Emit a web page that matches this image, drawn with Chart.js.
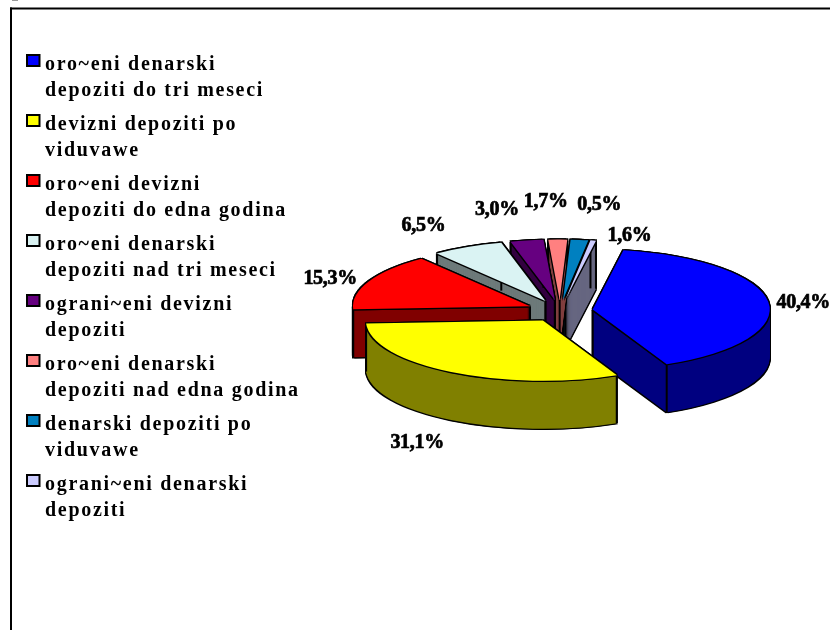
<!DOCTYPE html>
<html><head><meta charset="utf-8">
<style>html,body{margin:0;padding:0;background:#fff}#w{width:830px;height:630px;position:relative}</style>
<script src="https://cdn.jsdelivr.net/npm/chart.js@4/dist/chart.umd.js"></script>
</head><body><div id="w"><canvas id="c" width="830" height="630"></canvas></div>
<script>
const categories = [
  ["oro~eni denarski","depoziti do tri meseci"],
  ["devizni depoziti po","viduvawe"],
  ["oro~eni devizni","depoziti do edna godina"],
  ["oro~eni denarski","depoziti nad tri meseci"],
  ["ograni~eni devizni","depoziti"],
  ["oro~eni denarski","depoziti nad edna godina"],
  ["denarski depoziti po","viduvawe"],
  ["ograni~eni denarski","depoziti"]
];
const shares = [40.4,31.1,15.3,6.5,3.0,1.7,1.6,0.5];
const topColors = ["#0000ff","#ffff00","#ff0000","#daf3f3","#660080","#ff8080","#0080c0","#ccccff"];
const wallColors = ["#000080","#808000","#800000","#6d7a7a","#330040","#804040","#004060","#666680"];
const paintGroups = [[6,7,5,4,3],[2],[0],[1]];
const labelNudge = [[35,2],[-34,72],[-39,-1],[-44,-20],[-30,-30],[-12,-37],[50,-3],[6,-35]];
const SQUASH=0.34, DEPTH=48, CX=560, CY=311, EXPLODE=33, RIM=177;
const LEGEND_TRACKING='1.7px';

function paint(arc,ctx,color,dx,dy){
  const saved=arc.options;
  const mid=(arc.startAngle+arc.endAngle)/2;
  arc.options=Object.assign({},saved,{backgroundColor:color,borderWidth:0,borderColor:color});
  ctx.setTransform(1,0,0,SQUASH,
    CX+EXPLODE*Math.cos(mid)+dx-arc.x,
    CY+SQUASH*EXPLODE*Math.sin(mid)+dy-arc.y*SQUASH);
  arc.draw(ctx);
  arc.options=saved;
}
function rimPoint(arc,a){
  const mid=(arc.startAngle+arc.endAngle)/2;
  return [CX+EXPLODE*Math.cos(mid)+RIM*Math.cos(a), CY+SQUASH*(EXPLODE*Math.sin(mid)+RIM*Math.sin(a))];
}
const pie3d={
  id:'pie3d',
  beforeLayout(chart){ chart.ctx.letterSpacing=LEGEND_TRACKING; },
  beforeDraw(chart){
    const ctx=chart.ctx;
    ctx.save();ctx.fillStyle='#000';
    ctx.fillRect(10,7.5,820,2);ctx.fillRect(10,7.5,2,622.5);
    ctx.fillStyle='#999';ctx.fillRect(12,0,6,1);
    ctx.restore();
    ctx.letterSpacing=LEGEND_TRACKING;
  },
  beforeDatasetsDraw(chart){
    const ctx=chart.ctx, arcs=chart.getDatasetMeta(0).data, o=1.1;
    ctx.save();
    paintGroups.forEach(group=>{
      group.forEach(i=>{
        const arc=arcs[i];
        for(let d=DEPTH;d>=0;d-=1){
          paint(arc,ctx,'#000',-o,d-o);paint(arc,ctx,'#000',o,d-o);
          paint(arc,ctx,'#000',-o,d+o);paint(arc,ctx,'#000',o,d+o);
        }
        for(let d=DEPTH;d>=0;d-=1) paint(arc,ctx,wallColors[i],0,d);
        ctx.setTransform(1,0,0,1,0,0);
        const mid=(arc.startAngle+arc.endAngle)/2;
        const tip=[CX+EXPLODE*Math.cos(mid),CY+SQUASH*EXPLODE*Math.sin(mid)];
        [tip,rimPoint(arc,arc.startAngle),rimPoint(arc,arc.endAngle)].forEach(p=>{
          ctx.strokeStyle='#000';ctx.lineWidth=2;ctx.beginPath();ctx.moveTo(p[0],p[1]);ctx.lineTo(p[0],p[1]+DEPTH);ctx.stroke();
        });
      });
      group.forEach(i=>{
        const arc=arcs[i];
        paint(arc,ctx,'#000',-o,-o);paint(arc,ctx,'#000',o,-o);
        paint(arc,ctx,'#000',-o,o);paint(arc,ctx,'#000',o,o);
        paint(arc,ctx,topColors[i],0,0);
      });
    });
    ctx.restore();
    ctx.save();
    ctx.setTransform(1,0,0,1,0,0);
    ctx.letterSpacing='-0.3px';
    ctx.font='bold 20px "Liberation Serif"';
    ctx.textAlign='center';ctx.textBaseline='middle';
    ctx.fillStyle='#000';ctx.strokeStyle='#000';ctx.lineWidth=0.7;
    arcs.forEach((arc,i)=>{
      const mid=(arc.startAngle+arc.endAngle)/2;
      const x=CX+(RIM+EXPLODE)*Math.cos(mid)+labelNudge[i][0];
      const y=CY-1+SQUASH*(RIM+EXPLODE)*Math.sin(mid)+labelNudge[i][1];
      const t=shares[i].toFixed(1).replace('.',',')+'%';
      ctx.fillText(t,x,y);ctx.strokeText(t,x,y);
    });
    ctx.restore();
    ctx.letterSpacing=LEGEND_TRACKING;
    return false;
  },
  afterDraw(chart){
    const ctx=chart.ctx;
    ctx.save();
    chart.legend.legendHitBoxes.forEach((h,i)=>{
      ctx.fillStyle=topColors[i];ctx.strokeStyle='#000';ctx.lineWidth=2;
      ctx.fillRect(h.left+2,h.top,12.5,11);
      ctx.strokeRect(h.left+2,h.top,12.5,11);
    });
    ctx.restore();
  }
};
new Chart(document.getElementById('c'),{
  type:'pie',
  data:{labels:categories,datasets:[{data:shares,backgroundColor:topColors,borderWidth:0}]},
  options:{
    responsive:false,animation:false,
    rotation:10,radius:RIM,
    layout:{padding:{left:17,top:47}},
    plugins:{
      tooltip:{enabled:false},
      legend:{
        position:'left',align:'start',
        labels:{
          boxWidth:10,boxHeight:10,padding:8,color:'#000',
          font:{family:'"Liberation Serif"',size:20,weight:'bold',lineHeight:1.3},
          generateLabels(chart){
            return categories.map((t,i)=>({text:t,fillStyle:'rgba(0,0,0,0)',strokeStyle:'rgba(0,0,0,0)',lineWidth:0,index:i,hidden:false}));
          }
        }
      }
    }
  },
  plugins:[pie3d]
});
</script></body></html>
